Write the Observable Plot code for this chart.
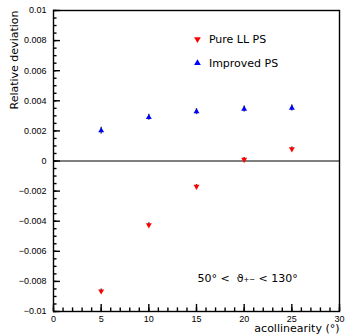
<!DOCTYPE html>
<html><head><meta charset="utf-8">
<script src="https://cdn.jsdelivr.net/npm/d3@7"></script>
<script src="https://cdn.jsdelivr.net/npm/@observablehq/plot@0.6"></script>
<style>body{margin:0;background:#fff}</style>
</head><body><div id="chart"></div>
<script>
const angles = [5, 10, 15, 20, 25];
const pureLL = [-0.00865, -0.00425, -0.0017, 0.0001, 0.0008];
const pureErr = [0.00015, 0.00015, 0.00013, 0.00013, 0.00013];
const improved = [0.00202, 0.0029, 0.00328, 0.00346, 0.00352];
const improvedErr = [0.00022, 0.0002, 0.0002, 0.0002, 0.0002];
const yTicks = [0.01, 0.008, 0.006, 0.004, 0.002, 0, -0.002, -0.004, -0.006, -0.008, -0.01];
const xTicks = [0, 5, 10, 15, 20, 25, 30];
const legendLabels = ["Pure LL PS", "Improved PS"];
const annotation = "50° <  ϑ₊₋ < 130°";

const pure = angles.map((a, i) => ({x: a, y: pureLL[i], e: pureErr[i]}));
const imp = angles.map((a, i) => ({x: a, y: improved[i], e: improvedErr[i]}));
const yMinor = d3.range(-0.01, 0.01001, 0.0005).map(v => +v.toFixed(4));
const xMinor = d3.range(0, 31, 1);
const fmt = d => d === 0 ? "0" : String(d).replace("-", "\u2212");
const font = "Liberation Sans, Helvetica, Arial, sans-serif";
// tick lengths expressed in data units (≈7px / 3.5px)
const xMaj = 0.73, xMin = 0.37, yMaj = 0.00047, yMin = 0.00024;

const chart = Plot.plot({
  width: 345, height: 336,
  marginLeft: 53, marginRight: 6, marginTop: 10, marginBottom: 25,
  style: {fontFamily: font, fontSize: "9px", background: "#fff"},
  x: {domain: [0, 30], label: null},
  y: {domain: [-0.01, 0.01], label: null},
  marks: [
    Plot.ruleY([0], {stroke: "#555", strokeWidth: 1.5}),
    Plot.axisY(yTicks, {tickSize: 0, tickPadding: 7, tickFormat: fmt, fontSize: 9, label: null}),
    Plot.axisX(xTicks, {tickSize: 0, tickPadding: 4, fontSize: 9, label: null}),
    Plot.ruleY(yTicks, {y: d => d, x1: 0, x2: xMaj, stroke: "#000", strokeWidth: 1.4}),
    Plot.ruleY(yMinor, {y: d => d, x1: 0, x2: xMin, stroke: "#000", strokeWidth: 1.4}),
    Plot.ruleX(xTicks, {x: d => d, y1: -0.01, y2: -0.01 + yMaj, stroke: "#000", strokeWidth: 1.4}),
    Plot.ruleX(xMinor, {x: d => d, y1: -0.01, y2: -0.01 + yMin, stroke: "#000", strokeWidth: 1.4}),
    Plot.frame({stroke: "#000", strokeWidth: 1.4}),
    Plot.ruleX(pure, {x: "x", y1: d => d.y - d.e, y2: d => d.y + d.e, stroke: "#333", strokeWidth: 1.3}),
    Plot.ruleX(imp, {x: "x", y1: d => d.y - d.e, y2: d => d.y + d.e, stroke: "#333", strokeWidth: 1.3}),
    Plot.dot(pure, {x: "x", y: "y", symbol: "triangle", rotate: 180, r: 2.2, fill: "red", stroke: "none"}),
    Plot.dot(imp, {x: "x", y: "y", symbol: "triangle", r: 2.2, fill: "blue", stroke: "none"}),
    Plot.dot([{x: 15.1, y: 0.0081}], {x: "x", y: "y", symbol: "triangle", rotate: 180, r: 2.5, fill: "red"}),
    Plot.dot([{x: 15.1, y: 0.0065}], {x: "x", y: "y", symbol: "triangle", r: 2.5, fill: "blue"}),
    Plot.text([{x: 16.3, y: 0.0081, t: legendLabels[0]}], {x: "x", y: "y", text: "t", textAnchor: "start", fontSize: 11, fontFamily: "DejaVu Sans, sans-serif"}),
    Plot.text([{x: 16.3, y: 0.0065, t: legendLabels[1]}], {x: "x", y: "y", text: "t", textAnchor: "start", fontSize: 11, fontFamily: "DejaVu Sans, sans-serif"}),
    Plot.text([{x: 15.1, y: -0.0078, t: annotation}], {x: "x", y: "y", text: "t", textAnchor: "start", fontSize: 11, fontFamily: "DejaVu Sans, sans-serif"}),
    Plot.text(["Relative deviation"], {frameAnchor: "top-left", dx: -43, dy: 0, rotate: -90, textAnchor: "end", fontSize: 11, fontFamily: "DejaVu Sans, sans-serif"}),
    Plot.text(["acollinearity (°)"], {frameAnchor: "bottom-right", dx: 0, dy: 20, textAnchor: "end", fontSize: 11, fontFamily: "DejaVu Sans, sans-serif"})
  ]
});
document.getElementById("chart").appendChild(chart);
</script></body></html>
